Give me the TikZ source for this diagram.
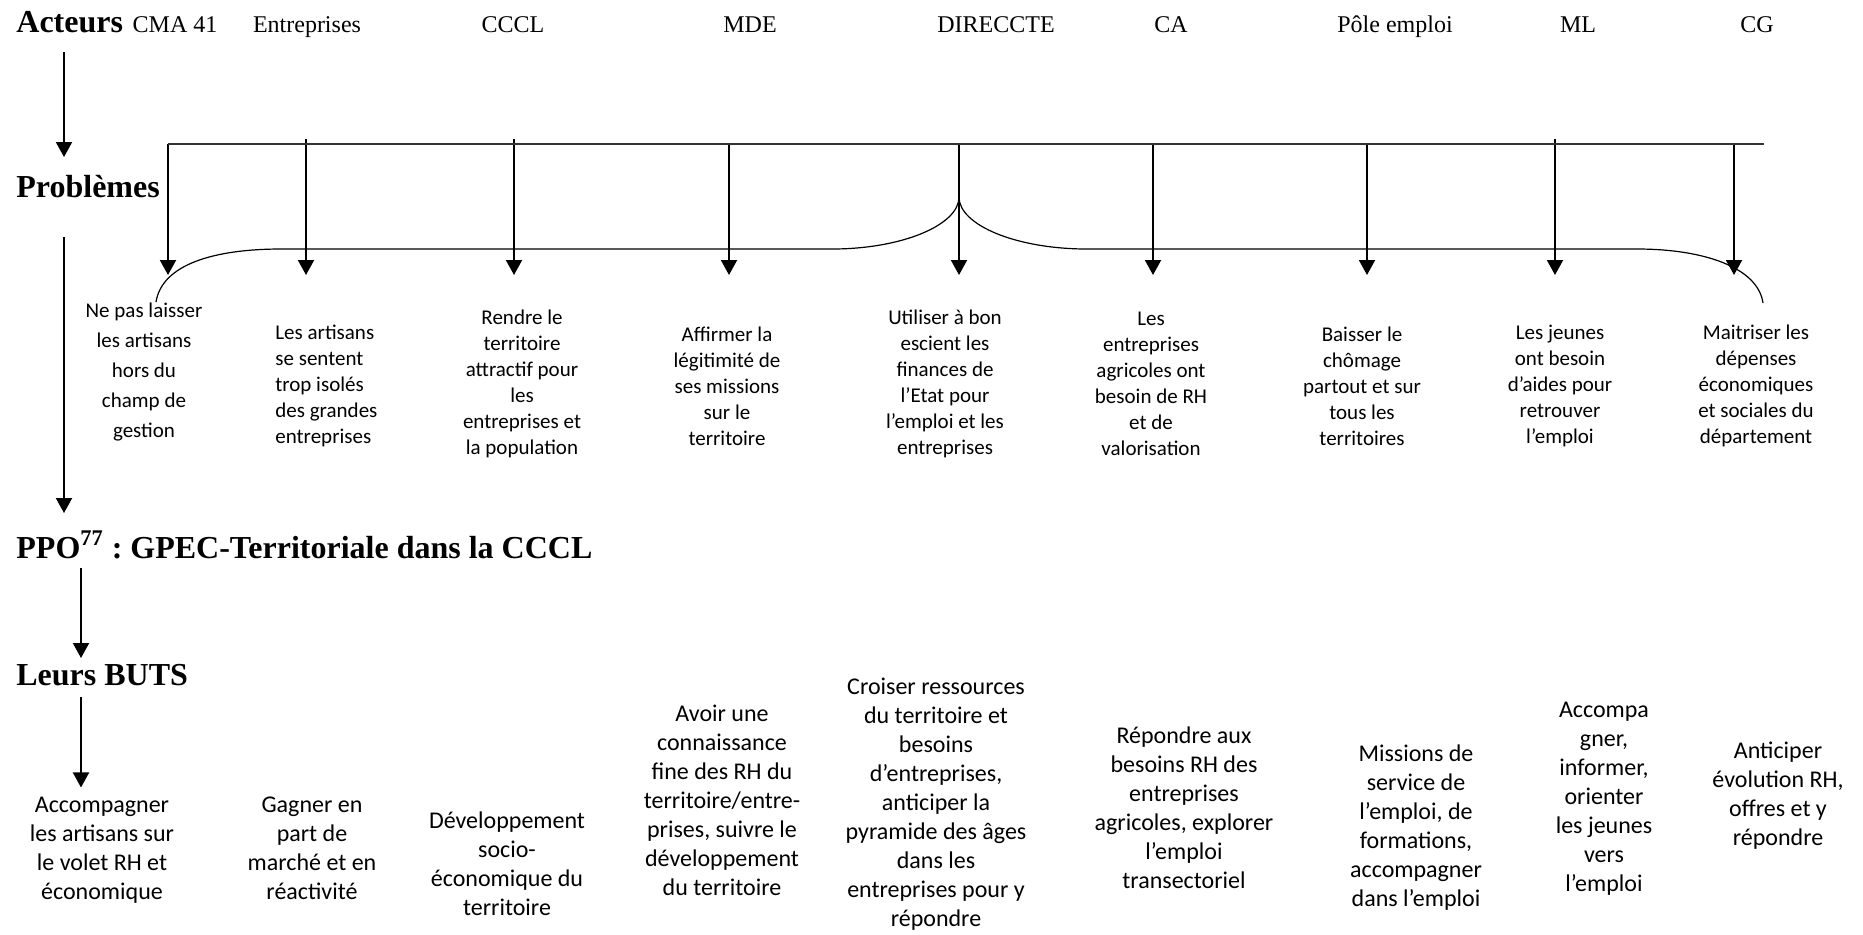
\documentclass[tikz,border=0pt]{standalone}
\usepackage{fontspec}
\setmainfont{Liberation Serif}
\newfontfamily\calibri{Carlito}
\usepackage{tikz}
\usetikzlibrary{arrows.meta,calc}
\frenchspacing

\begin{document}
\begin{tikzpicture}[
  x=5pt, y=-5pt,
  title/.style={anchor=base west, inner sep=0pt, font=\fontsize{16}{19}\selectfont\bfseries},
  actor/.style={anchor=base, inner sep=0pt, font=\fontsize{12}{14}\selectfont},
  problem/.style={inner sep=0pt, align=center, font=\calibri\fontsize{10.5}{13}\selectfont},
  goal/.style={inner sep=0pt, align=center, font=\calibri\fontsize{12}{14.5}\selectfont},
  arrow/.style={-{Triangle[width=8pt,length=7.5pt]}, line width=1pt},
  rail/.style={line width=0.7pt, black!80},
  brace/.style={line width=0.6pt}
]
\useasboundingbox (0,0) rectangle (186.3,93.4);

% Titles on the left
\node[title] (acteurs) at (1.6,3.2) {Acteurs};
\node[title] (problemes) at (1.6,19.7) {Problèmes};
\node[title] (ppo) at (1.6,55.8) {PPO\textsuperscript{77} : GPEC-Territoriale dans la CCCL};
\node[title] (buts) at (1.6,68.5) {Leurs BUTS};

% Actors
\node[actor] (cma) at (17.5,3.2) {CMA 41};
\node[actor] (entr) at (30.7,3.2) {Entreprises};
\node[actor] (cccl) at (51.3,3.2) {CCCL};
\node[actor] (mde) at (75.0,3.2) {MDE};
\node[actor] (direccte) at (99.6,3.2) {DIRECCTE};
\node[actor] (ca) at (117.1,3.2) {CA};
\node[actor] (pole) at (139.5,3.2) {Pôle emploi};
\node[actor] (ml) at (157.8,3.2) {ML};
\node[actor] (cg) at (175.7,3.2) {CG};

% Problems
\node[problem, font=\calibri\fontsize{10.5}{15}\selectfont] (pcma) at (14.4,37.2) {Ne pas laisser\\les artisans\\hors du\\champ de\\gestion};
\node[problem, align=left, anchor=west] (pentr) at (27.5,38.6) {Les artisans\\se sentent\\trop isolés\\des grandes\\entreprises};
\node[problem] (pcccl) at (52.2,38.4) {Rendre le\\territoire\\attractif pour\\les\\entreprises et\\la population};
\node[problem] (pmde) at (72.7,38.6) {Affirmer la\\légitimité de\\ses missions\\sur le\\territoire};
\node[problem] (pdireccte) at (94.5,38.4) {Utiliser à bon\\escient les\\finances de\\l’Etat pour\\l’emploi et les\\entreprises};
\node[problem] (pca) at (115.1,38.4) {Les\\entreprises\\agricoles ont\\besoin de RH\\et de\\valorisation};
\node[problem] (ppole) at (136.2,38.6) {Baisser le\\chômage\\partout et sur\\tous les\\territoires};
\node[problem] (pml) at (156.0,38.6) {Les jeunes\\ont besoin\\d’aides pour\\retrouver\\l’emploi};
\node[problem] (pcg) at (175.6,38.6) {Maitriser les\\dépenses\\économiques\\et sociales du\\département};

% Goals
\node[goal] (gcma) at (10.2,85.0) {Accompagner\\les artisans sur\\le volet RH et\\économique};
\node[goal] (gentr) at (31.2,84.8) {Gagner en\\part de\\marché et en\\réactivité};
\node[goal] (gcccl) at (50.7,86.4) {Développement\\socio-\\économique du\\territoire};
\node[goal] (gmde) at (72.2,80.0) {Avoir une\\connaissance\\fine des RH du\\territoire/entre-\\prises, suivre le\\développement\\du territoire};
\node[goal] (gdireccte) at (93.6,80.4) {Croiser ressources\\du territoire et\\besoins\\d’entreprises,\\anticiper la\\pyramide des âges\\dans les\\entreprises pour y\\répondre};
\node[goal] (gca) at (118.4,80.8) {Répondre aux\\besoins RH des\\entreprises\\agricoles, explorer\\l’emploi\\transectoriel};
\node[goal] (gpole) at (141.6,82.8) {Missions de\\service de\\l’emploi, de\\formations,\\accompagner\\dans l’emploi};
\node[goal] (gml) at (160.4,79.9) {Accompa\\gner,\\informer,\\orienter\\les jeunes\\vers\\l’emploi};
\node[goal] (gcg) at (177.8,79.6) {Anticiper\\évolution RH,\\offres et y\\répondre};

% Arrows down the left side
\coordinate (lxa) at (6.4,0);
\coordinate (lxb) at (8.1,0);
\draw[arrow] ($(acteurs.base -| lxa)+(0,2.0)$) -- ($(problemes.base -| lxa)+(0,-4.0)$);
\draw[arrow] ($(problemes.base -| lxa)+(0,4.0)$) -- ($(ppo.base -| lxa)+(0,-4.5)$);
\draw[arrow] ($(ppo.base -| lxb)+(0,1.0)$) -- ($(buts.base -| lxb)+(0,-2.7)$);
\draw[arrow] ($(buts.base -| lxb)+(0,1.2)$) -- ($(gcma.north -| lxb)+(0,-0.9)$);

% Arrows from the rail to the problems
\foreach \n/\x/\s in {cma/16.8/14.4, entr/30.6/13.9, cccl/51.4/13.9, mde/72.9/14.4, direccte/95.9/14.4, ca/115.3/14.4, pole/136.7/14.4, ml/155.5/13.9, cg/173.4/14.4}{
  \coordinate (\n-top) at (\x,\s);
  \coordinate (\n-tip) at (\x,27.5);
  \draw[arrow] (\n-top) -- (\n-tip);
}
\coordinate (rail-end) at (176.4,14.4);
\draw[rail] (rail-end) -- (cma-top);

% Brace over the problems
\draw[brace] (15.6,30.2) .. controls (16.2,26.4) and (21.5,24.9) .. (28.1,24.9)
  -- (83.2,24.9) .. controls (90.2,24.9) and (95.9,22.5) .. (95.9,19.7)
  .. controls (95.9,22.5) and (101.6,24.9) .. (108.7,24.9)
  -- (163.7,24.9) .. controls (170.5,24.9) and (175.8,26.8) .. (176.3,30.3);

\end{tikzpicture}
\end{document}
